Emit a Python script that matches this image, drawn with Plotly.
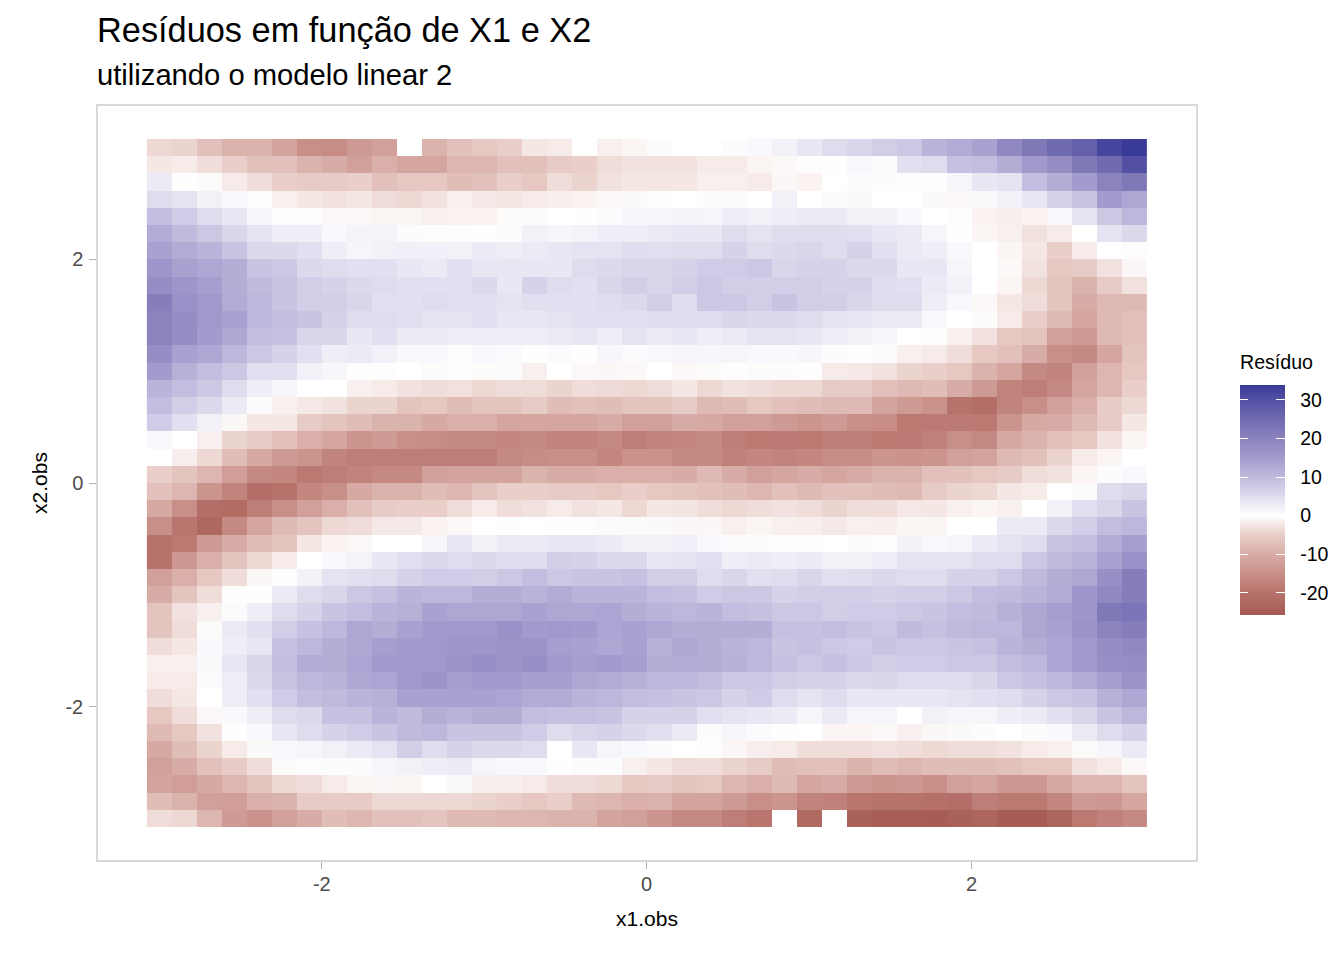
import plotly.graph_objects as go

nan = None
x_vals = [-3 + i * 6 / 39 for i in range(40)]
y_vals = [3 - i * 6 / 39 for i in range(40)]

residuo = [
[-4,-4.5,-7,-9,-9,-11.5,-15,-15.5,-13,-12,nan,-9,-7,-6,-5,-2.5,-2,nan,-1.5,-1, 0.5,0,0,0.5,1,2,3.5,5,6,7,8,11,12.5,14,19,22,25,27,32,34],
[-2.5,-2,-3.5,-5,-7,-7,-9,-10,-12,-9.5,-11,-11,-8.5,-8.5,-7,-7,-5.5,-5,-3.5,-3, -3,-3,-2,-2,-1,-0.7,0.3,0.2,1,0.5,4.5,5,9,9.5,12,15.5,18,22,25,30],
[3,0.2,-0.5,-2,-3.5,-5,-5.5,-5.5,-5,-7,-6,-6,-7.5,-7,-5,-6,-3.5,-4.5,-3,-2.5, -2.5,-2.5,-1.5,-1.5,-2,-0.8,-1.2,0,-0.4,-0.4,-0.3,0.3,1.5,3.5,4,9.5,12,15,20,22],
[5,4,2,1,-0.3,-1.5,-2.5,-3,-2.5,-3.5,-4,-3,-1.5,-2.2,-2.5,-2,-1.7,-1.2,-0.7,-0.6, 0.3,0,0.5,0.7,0,2,0,0.7,0.9,0,0,-0.6,-0.7,0.8,2,3.5,6.5,8.5,15,13],
[9.5,7.5,5,3.5,1.5,0.3,-0.3,-0.7,-0.7,-1,-1,-1.5,-1.2,-1.2,-0.5,-0.5,0,0.2,0.4,1.5, 1.5,1.6,1.5,2.5,2,2.5,3,3,2,2,1,0,-0.3,-1.2,-1.7,-1.2,1,4,8,10.5],
[12.5,10,8,6,4,2.5,2.5,1,1.7,1.7,0.4,0.3,-0.2,0.2,0.4,2,1.5,1.7,2.5,2.5, 3,3.5,3.5,5,4,5,5,5,4.5,3.5,3,1.5,0.1,-1,-1.5,-3,-2,0,4,5.5],
[14,12.5,11,8.5,5.5,5.5,4.5,2.5,1.5,2,2.2,2.2,2,3,2.5,3,3.5,4,4,5, 4.5,5,5,6.5,5,5.5,6,5,6.5,4.5,3,2.5,1,0,-1,-2.5,-5,-2,0,0.3],
[16,14,13,12,8.5,8,5.5,5,4.5,4.5,3.5,3,4.5,3.5,3.5,3.5,3.5,5,5.5,6, 6,6.5,7.5,7.5,8,6,6.5,6.5,5.5,5.5,3.5,3.5,1.5,0,-0.7,-3,-6,-5.5,-3,-0.8],
[18,16,14.5,12,10,8.5,7,6.5,5.5,5,4.5,4.5,4.5,5.5,3.5,6.5,5,4.5,6,7, 6,7,8,7,7,7,7,6.5,6.5,5,4.5,3,2,0,-1,-4,-6.5,-9,-5.5,-3],
[21,17,15.5,12.5,10.5,8.5,7,7,6,4.5,4.5,5,4.5,4.5,4,4.5,4.5,4.5,5,5.5, 7,5,8,8,7,8.5,7,7,6,5,5,2.5,1,-0.7,-2.5,-3.5,-6.5,-10,-8,-8],
[20,18,15.5,14,10.5,9.5,8.5,6.5,5,5,4.5,4,4,4.5,3.5,3.5,4,4.5,4.5,4.5, 5,5,5,6,5.5,5.5,5,4,3.5,3,3,1,0,-0.5,-2,-5,-8,-11,-8,-7],
[20,18,15,13,9.5,9,6,6,3.5,4.5,3,3,2.5,2.5,2.5,2.5,3,3.5,2.5,4, 3,3.5,2.5,3,4,4,3.5,2.5,2,1.3,0,0.1,-1.5,-3,-6,-6.5,-12,-13,-8,-7],
[18,14,13,10.5,8,6.5,4.5,2.5,3,2,1,1,0.3,1,0.6,0.2,0.6,0.2,1.2,0.6, 1,1.5,1.3,1.5,1,1,1.2,0.5,0.1,-0.5,-1.5,-2,-3.5,-6,-7,-10,-15,-16,-11,-6.5],
[15,11.5,9.5,8,4.5,4.5,2,1.2,0.3,0.3,0,-0.5,-0.3,-0.5,-0.5,-1.5,0,-0.7,-0.8,-0.7, 0,-0.7,-0.5,-0.3,-0.5,-0.4,-0.3,-2,-2.3,-3,-4.5,-5,-6,-9,-11,-16,-17,-12,-8.5,-6],
[11,9.5,8,5,2.5,1.2,0,0,-1.5,-2,-3,-3.5,-3.2,-4,-3.5,-3.7,-4.5,-3.5,-3.8,-4, -3.5,-2.5,-4,-3,-3.5,-4,-4,-5.5,-5.5,-7,-8,-7.5,-10,-13,-17,-18,-16,-11,-8.5,-5],
[9.5,7,5.5,3,0.4,-1.5,-2.2,-3,-4.5,-4.5,-6.5,-6,-7.5,-6.5,-6.5,-5.5,-7.5,-7,-7.5,-6.5, -6.5,-5.5,-8,-7.5,-6,-7,-7.5,-8,-8,-11.5,-13,-14.5,-20,-21,-17,-15,-12,-9.5,-5.5,-4],
[7.5,4.5,2,-0.8,-2.5,-2.5,-5.5,-6.5,-7.5,-9,-9,-10.5,-9.5,-9.5,-11,-11,-11,-11,-10,-12, -12,-10,-10.5,-12,-12,-13,-14,-13,-15,-15.5,-19,-18.5,-18.5,-19,-14,-10.5,-10,-8,-5.5,-2.5],
[1,0,-1.5,-4.5,-5.5,-7,-9.5,-11,-14,-13,-15,-15.5,-16,-16,-16.5,-16,-17,-17,-16,-18, -17,-16.5,-16,-18,-19,-18.5,-19,-18,-18,-19,-18.5,-17.5,-15,-16,-10.5,-9,-7,-6,-3,-1],
[0,-1.8,-4,-7.5,-10.5,-13,-14,-17,-18,-18,-18,-18,-18,-18,-16,-15.5,-15,-15,-16.5,-14.5, -14.5,-16,-16,-17.5,-16.5,-17,-16.5,-15.5,-15.5,-14,-14.5,-14,-12,-11.5,-8,-7,-4.5,-2,-1,0],
[-5,-6.5,-8.5,-12.5,-16,-16.5,-19,-18,-17,-16,-16,-12,-11.5,-11.5,-11.5,-9,-10,-10,-9.5,-9.5, -9.5,-10,-8,-10,-12,-11,-10,-11,-10,-9,-9,-7,-7,-6,-5.5,-3.5,-3,-1,0.4,1],
[-7,-8.5,-14,-17,-21,-20,-16.5,-15,-10.5,-9,-9,-7.5,-8.5,-6.5,-5,-5,-5.5,-5.5,-6,-5, -6,-6.5,-7,-7.5,-8.5,-7,-8,-7,-7,-7.5,-8,-5.5,-4.5,-4,-2.5,-2,0,0.5,5,6],
[-10.5,-15,-21,-21.5,-18,-15,-12,-9.5,-7,-5.5,-5,-5,-3.5,-2,-3.5,-3,-2,-3,-2.5,-4, -2.5,-2.7,-3.5,-4,-3.5,-3,-3.5,-4.5,-3.5,-3.5,-2.3,-2.5,-1.5,-1,-1.5,0,2,4.5,6,8.5],
[-15,-19.5,-22.5,-16,-11,-8,-6.5,-4,-3.5,-2.2,-2.2,-1.2,-0.7,0,0.2,0,0.2,0.3,-0.5,-0.5, -0.6,-0.8,-0.8,-1.5,-1,-1.5,-1.7,-2.2,-1.5,-1.7,-1,-1,0,0,3,3,5.5,7,9.5,10.5],
[-20,-19,-13,-10,-7.5,-6.5,-2.5,-1.2,-0.7,0,0,1.5,3.5,2,3,3,3.5,3.5,3,2, 2,2.3,1,0.7,0.4,0.3,0.2,0,0.6,0.3,1.8,1,1.3,3,4,5,8.5,9.5,12.5,14.5],
[-20,-13.5,-9.5,-6.5,-4,-2,0,1,1.7,3.5,4.5,5.5,5,5.5,5,5,7,6.5,5.5,5.5, 3.5,4,4.5,2.5,3,2.5,3,2,2,2.5,4,4,4,5,5,8,10,11,14,17],
[-12,-9.5,-6,-3.5,-0.8,0.3,1.8,4,4.5,5,6.5,7.5,7.5,7,8,9.5,8,8.5,8.5,9, 7,7,5,6,4.5,5,6,4.5,5,5.5,5,5,6.5,6.5,8,10,12,13,17.5,21],
[-10,-6.5,-3.5,-0.2,0.2,3,5,6,8,9,11,10.5,10.5,12,12,11,12.5,11,11,11, 9.5,9,7.5,8,8,6.5,7,7,7,6.5,7,7,8,9.5,10,11,12.5,16,19,21],
[-6.5,-3,-1.5,0.7,2.5,5,6.5,8.5,9.5,11,11.5,14,13,13,13,14,13,13,13.5,12, 11,10.5,11,9.5,9,8,8,7,7.5,7.5,8,8.5,9.5,10,11.5,13,14.5,16,22,23],
[-6.5,-3.5,-0.5,3,4.5,7,9,10.5,13,12,14,15,15.5,15.5,17,15,15.5,15,13.5,14, 13,12,12,12,12,9,9,9.5,8.5,8,10,9,10,10.5,10.5,13,14,16.5,20,21],
[-3.5,-2.5,1,2.5,3.5,9,10.5,12,13,14.5,15,15.5,16,16,16.5,16.5,14.5,14,13,14, 11.5,13,12,11,10.5,8.5,9,8,7.5,8.5,8,8,8.5,9,11,12,13.5,15.5,18,19],
[-1.5,-1.5,0.8,3.5,6,9.5,12.5,12,13.5,15.5,15.5,15.5,16.5,17.5,16.5,17.5,15.5,14.5,15,14.5, 12,12.5,12,11.5,10.5,9,8,9,8,7,7.5,7.5,8,8,9.5,10.5,13.5,15,17.5,18],
[-2,-2,0.6,2.5,5.5,8.5,10.5,11,13,13.5,15.5,16.5,14.5,15,15,14.5,14.5,13,12.5,11.5, 10.5,10.5,9.5,8,8,7,6.5,6.5,5.5,6,5,5,5,6,8,9,10.5,12.5,14.5,16.5],
[-3.5,-2.5,0,2.5,4.5,7.5,9.5,10,11,11.5,14,14,14,14,13.5,12.5,12.5,11,10.5,9.5, 9,8.5,8,6.5,7.5,5,4,5,3.5,3.5,3.5,3.5,4,4.5,5,6.5,8,8.5,11.5,13],
[-6,-3.5,-0.7,1,2.5,5,5.5,9,9,11,10,12,11,12,12,9.5,9,9,8.5,6.5, 6.5,6.5,4.5,4,3.5,3,1.5,3,1.5,1.5,0,2,1.5,1.5,2.5,3,4.5,6,8.5,10.5],
[-8,-6,-3,0.1,1,3.5,5,6.5,7.5,8.5,10,10.5,8.5,8.5,8.5,7.5,5,6,6.5,5.5, 4.5,3,0.5,1.5,0.6,0.1,0,-1,-1,-0.7,-1.5,-0.8,-0.6,-0.4,0,0.5,1,3,5,6.5],
[-10.5,-7.5,-4.5,-2,-0.6,1,1.5,2,3,4,7,5,6.5,5.5,5.5,5,0,3.5,1.5,1, 0.5,0,-0.2,-0.9,-1.8,-2,-3.5,-3.5,-3.5,-3,-3.5,-4,-3.5,-3.5,-3,-2,-1.5,-0.5,1.5,3],
[-12,-10,-7,-5.5,-3.5,-0.5,-0.2,0.5,0.6,1.5,2,2.5,3,1.5,1,1,0.2,0.4,0.4,-1.5, -2.5,-3.5,-3.5,-4.5,-5.5,-7.5,-7,-7,-9,-7.5,-8.5,-7.5,-7.5,-7.5,-7,-6,-6,-3,-2,-0.7],
[-11.5,-12.5,-10.5,-8.5,-6.5,-4,-3.5,-2,-1,-0.8,-1,0,-0.6,-1.7,-1.7,-2,-3.5,-3.5,-4,-6, -5.5,-6.5,-6,-8.5,-9.5,-8,-11,-10,-13,-14,-13.5,-15,-12,-11,-13.5,-13.5,-10.5,-8.5,-8.5,-6.5],
[-7.5,-9,-12,-12.5,-9.5,-9,-5.5,-5.5,-5.5,-4,-4,-4,-4,-4.5,-5,-6,-5,-8,-8.5,-9.5, -9,-11.5,-11.5,-13,-15,-14,-17,-17.5,-19.5,-20,-20,-20.5,-21,-18,-19,-19,-16.5,-13,-13.5,-11],
[-3.5,-4,-8.5,-13,-14.5,-12,-10,-7.5,-8.5,-7,-7,-6.5,-8,-8,-8.5,-8.5,-9,-9,-11.5,-12, -14,-16,-16,-18,-19.5,nan,-22,nan,-24,-24.5,-24.5,-25,-24,-23,-25,-25,-23,-19,-17.5,-16],
]

z_min, z_max = -25.7, 33.8
ramp_values = [-25.7, -20, -15, -10, -5, 0, 5, 10, 15, 20, 25, 30, 33.8]
ramp_colors = ["#A55A52", "#B6736B", "#C88F88", "#D8ACA6", "#E9CEC9", "#FFFFFF",
               "#DFDCEE", "#C0BADD", "#A39BCD", "#8B83BE", "#706AB0", "#5350A3", "#3A3A98"]
legend_ticks = [-20, -10, 0, 10, 20, 30]

panel = (98, 1196.5, 106, 860)          # px: left, right, top, bottom
bar = (1240, 1286, 385, 615)
W, H = 1344, 960
pw, ph = panel[1] - panel[0], panel[3] - panel[2]
FONT = "Liberation Sans"
PAD = "\u00a0\u00a0"

fig = go.Figure(go.Heatmap(
    x=x_vals, y=y_vals, z=residuo, zmin=z_min, zmax=z_max, zsmooth=False,
    colorscale=[[(v - z_min) / (z_max - z_min), c] for v, c in zip(ramp_values, ramp_colors)],
    hoverongaps=False,
    colorbar=dict(
        x=(bar[0] - panel[0]) / pw, xanchor="left", xpad=0, ypad=0,
        y=(panel[3] - bar[3]) / ph, yanchor="bottom",
        thickness=bar[1] - bar[0], thicknessmode="pixels",
        len=bar[3] - bar[2], lenmode="pixels",
        outlinewidth=0, borderwidth=0,
        tickvals=legend_ticks, ticktext=[PAD + str(t) for t in legend_ticks],
        ticks="inside", ticklen=9, tickwidth=1, tickcolor="white",
        tickfont=dict(family=FONT, size=19.5, color="black"),
    ),
))

# ggplot draws the legend's tick marks on both sides of the bar: a thin white
# companion colorbar supplies the left-hand marks.
fig.add_trace(go.Scatter(
    x=[None], y=[None], mode="markers", showlegend=False, hoverinfo="skip",
    marker=dict(
        color=[0], cmin=z_min, cmax=z_max, colorscale=[[0, "white"], [1, "white"]], showscale=True,
        colorbar=dict(
            x=(bar[0] - 1 - panel[0]) / pw, xanchor="left", xpad=0, ypad=0,
            y=(panel[3] - bar[3]) / ph, yanchor="bottom",
            thickness=1, thicknessmode="pixels",
            len=bar[3] - bar[2], lenmode="pixels",
            outlinewidth=0, borderwidth=0,
            tickvals=legend_ticks, ticks="outside", ticklen=9, tickwidth=1, tickcolor="white",
            showticklabels=False,
        ),
    ),
))

axis_common = dict(
    tickvals=[-2, 0, 2], ticktext=["-2", "0", "2"], showgrid=False, zeroline=False,
    ticks="outside", ticklen=7, tickwidth=1, tickcolor="#B3B3B3",
    tickfont=dict(family=FONT, size=20, color="#4D4D4D"),
    showline=True, linecolor="#D9D9D9", linewidth=1.5, mirror=True,
)
fig.update_layout(
    width=W, height=H, autosize=False,
    paper_bgcolor="white", plot_bgcolor="white",
    margin=dict(l=panel[0], r=W - panel[1], t=panel[2], b=H - panel[3], pad=0, autoexpand=False),
    title=dict(
        text="Resíduos em função de X1 e X2",
        font=dict(family=FONT, size=34.35, color="black"),
        x=97 / W, xanchor="left", xref="container", y=1 - 42 / H, yanchor="bottom", yref="container",
    ),
    xaxis=dict(range=[-3.378, 3.382], ticklabelstandoff=-2, title=dict(text="x1.obs", font=dict(family=FONT, size=21, color="black"), standoff=18), **axis_common),
    yaxis=dict(range=[-3.372, 3.372], ticklabelstandoff=2, title=dict(text="x2.obs", font=dict(family=FONT, size=21, color="black"), standoff=12), **axis_common),
    annotations=[
        dict(text="utilizando o modelo linear 2", xref="paper", yref="paper", showarrow=False,
             x=0, xanchor="left", xshift=-3, y=(panel[3] - 75) / ph, yanchor="middle",
             font=dict(family=FONT, size=29.2, color="black")),
        dict(text="Resíduo", xref="paper", yref="paper", showarrow=False,
             x=(bar[0] - panel[0]) / pw, xanchor="left", xshift=-1, y=(panel[3] - 362) / ph, yanchor="middle",
             font=dict(family=FONT, size=19.6, color="black")),
    ],
)
fig.write_html("out.html", config=dict(displayModeBar=False),
               post_script="document.body.style.margin='0';document.body.style.overflow='hidden';")
